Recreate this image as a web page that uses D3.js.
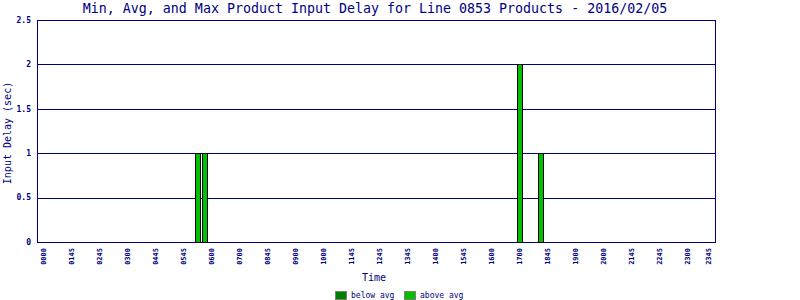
<!DOCTYPE html>
<html>
<head>
<meta charset="utf-8">
<script src="https://cdn.jsdelivr.net/npm/d3@7"></script>
<style>
  body { margin: 0; background: #fff; }
  text { font-family: "DejaVu Sans Mono", monospace; fill: #000080; }
</style>
</head>
<body>
<svg id="svgBar" width="800" height="300"></svg>
<script>
var title = "Min, Avg, and Max Product Input Delay for Line 0853 Products - 2016/02/05";

// 15 minute slots over the day
var slotCount = 96;

var tickSlots  = [0,4,8,12,16,20,24,28,32,36,40,44,48,52,56,60,64,68,72,76,80,84,88,92,95];
var tickLabels = ["0000","0145","0245","0300","0445","0545","0600","0700","0845","0900",
                  "1000","1145","1245","1345","1400","1545","1600","1700","1845","1900",
                  "2000","2145","2245","2300","2345"];

var yTicks = [0, 0.5, 1, 1.5, 2, 2.5];

var barSlots  = [22, 23, 68, 71];
var barValues = [1, 1, 2, 1];
var barTypes  = ["above", "above", "above", "above"];

var legendKeys   = ["below", "above"];
var legendLabels = ["below avg", "above avg"];

var colorBar = d3.scaleOrdinal()
    .domain(legendKeys)
    .range(["#008000", "#00c000"]);

var svgBar = d3.select("#svgBar"),
    plotLeft = 37, plotRight = 715, plotTop = 20, plotBottom = 242;

svgBar.append("rect")
    .attr("width", 800).attr("height", 300)
    .style("fill", "#fff");

var x = d3.scaleBand()
    .domain(d3.range(slotCount))
    .range([40.5, 712.5])
    .paddingInner(0.2)
    .paddingOuter(0.1);

var y = d3.scaleLinear()
    .domain([0, 2.5])
    .range([plotBottom, plotTop]);

var g = svgBar.append("g").attr("shape-rendering", "crispEdges");

// grid lines
g.selectAll(".grid")
  .data(yTicks)
  .enter().append("line")
    .attr("class", "grid")
    .attr("x1", plotLeft)
    .attr("x2", plotRight + 1)
    .attr("y1", function(d) { return Math.round(y(d)) + 0.5; })
    .attr("y2", function(d) { return Math.round(y(d)) + 0.5; })
    .style("stroke", "#000080");

// frame sides
g.selectAll(".side")
  .data([plotLeft, plotRight])
  .enter().append("line")
    .attr("x1", function(d) { return d + 0.5; })
    .attr("x2", function(d) { return d + 0.5; })
    .attr("y1", y(2.5))
    .attr("y2", y(0) + 1)
    .style("stroke", "#000080");

var bars = barSlots.map(function(s, i) {
  return {slot: s, value: barValues[i], type: barTypes[i]};
});

g.selectAll(".bar")
  .data(bars)
  .enter().append("rect")
    .attr("class", "bar")
    .attr("x", function(d) { return Math.round(x(d.slot)) + 0.5; })
    .attr("y", function(d) { return Math.round(y(d.value)) + 0.5; })
    .attr("width", Math.round(x.bandwidth()) - 1)
    .attr("height", function(d) { return Math.round(y(0)) - Math.round(y(d.value)); })
    .style("fill", function(d) { return colorBar(d.type); })
    .style("stroke", "#000");

// y tick labels
svgBar.selectAll(".ylab")
  .data(yTicks)
  .enter().append("text")
    .attr("x", 31)
    .attr("y", function(d) { return y(d); })
    .attr("dy", "0.35em")
    .style("text-anchor", "end")
    .style("font-size", "8px")
    .style("font-weight", "bold")
    .text(function(d) { return d; });

// x tick labels
svgBar.selectAll(".xlab")
  .data(tickSlots)
  .enter().append("text")
    .attr("transform", function(d) { return "translate(" + (x(d) + x.bandwidth() / 2) + ",248) rotate(-90)"; })
    .attr("dy", "0.35em")
    .style("text-anchor", "end")
    .style("font-size", "7px")
    .style("font-weight", "bold")
    .text(function(d, i) { return tickLabels[i]; });

svgBar.append("text")
    .attr("x", 375)
    .attr("y", 13)
    .style("text-anchor", "middle")
    .style("font-size", "13.3px")
    .text(title);

svgBar.append("text")
    .attr("transform", "translate(11,133) rotate(-90)")
    .style("text-anchor", "middle")
    .style("font-size", "10px")
    .text("Input Delay (sec)");

svgBar.append("text")
    .attr("x", 374)
    .attr("y", 281)
    .style("text-anchor", "middle")
    .style("font-size", "10px")
    .text("Time");

// legend
var legend = svgBar.selectAll(".legend")
  .data(legendKeys)
  .enter().append("g")
    .attr("transform", function(d, i) { return "translate(" + (335 + i * 69) + ",291)"; });

legend.append("rect")
    .attr("x", 0.5).attr("y", 0.5)
    .attr("width", 11).attr("height", 8)
    .attr("shape-rendering", "crispEdges")
    .style("fill", function(d) { return colorBar(d); })
    .style("stroke", "#808080");

legend.append("text")
    .attr("x", 16)
    .attr("y", 7)
    .style("font-size", "8px")
    .text(function(d, i) { return legendLabels[i]; });
</script>
</body>
</html>
